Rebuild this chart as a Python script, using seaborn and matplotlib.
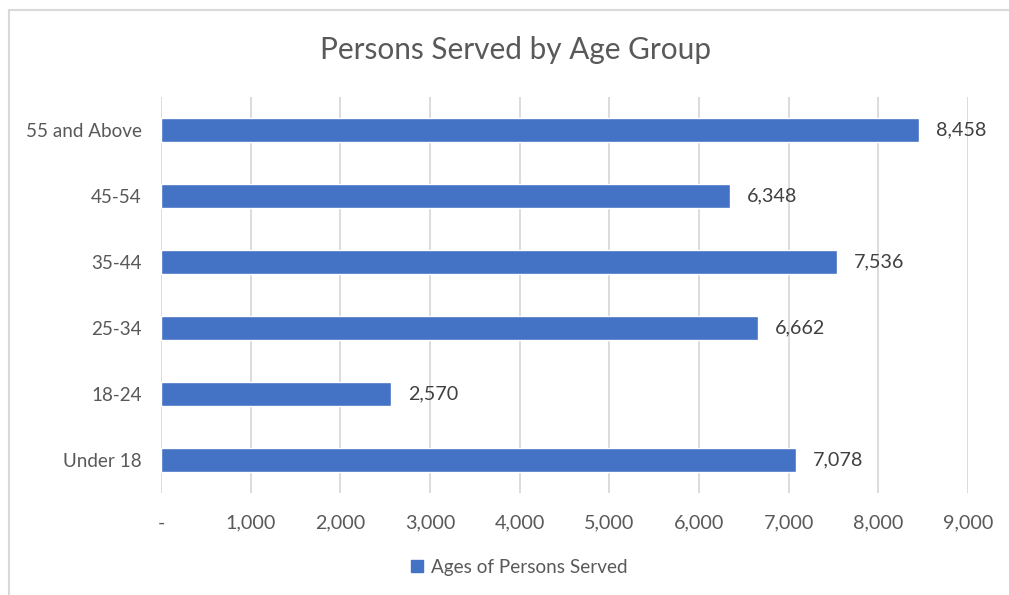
import matplotlib
matplotlib.use("Agg")
import matplotlib.pyplot as plt
import seaborn as sns
import pandas as pd
from matplotlib.lines import Line2D
from matplotlib.patches import Patch

categories = ["55 and Above", "45-54", "35-44", "25-34", "18-24", "Under 18"]
values = [8458, 6348, 7536, 6662, 2570, 7078]
xticks = [0, 1000, 2000, 3000, 4000, 5000, 6000, 7000, 8000, 9000]
xtick_labels = ["-", "1,000", "2,000", "3,000", "4,000", "5,000", "6,000", "7,000", "8,000", "9,000"]
title = "Persons Served by Age Group"
series_name = "Ages of Persons Served"

df = pd.DataFrame({"Age Group": categories, "Persons": values})

sns.set_theme(style="white")
plt.rcParams["font.family"] = ["Lato", "DejaVu Sans"]

TXT = "#595959"
BAR = "#4472C4"
GRID = "#d9d9d9"

fig = plt.figure(figsize=(10.09, 5.95), dpi=100)
ax = fig.add_axes([161 / 1009, 1 - 493 / 595, (968 - 161) / 1009, (493 - 97) / 595])

sns.barplot(data=df, x="Persons", y="Age Group", order=categories, orient="h",
            color=BAR, saturation=1, width=0.36, ax=ax)

ax.set_xlim(0, 9000)
ax.set_xticks(xticks)
ax.set_xticklabels(xtick_labels)
ax.xaxis.grid(True, color=GRID, linewidth=1.3)
ax.yaxis.grid(False)
ax.set_axisbelow(True)
for s in ax.spines.values():
    s.set_visible(False)
ax.tick_params(axis="x", length=0, pad=15.5, labelsize=14.2, labelcolor=TXT)
ax.tick_params(axis="y", length=0, pad=14, labelsize=13.6, labelcolor=TXT)
ax.set_xlabel("")
ax.set_ylabel("")

for i, v in enumerate(values):
    ax.annotate(f"{v:,}", xy=(v, i), xytext=(17, 0), textcoords="offset pixels",
                ha="left", va="center", fontsize=14.2, color="#404040")

fig.text(516 / 1009, 1 - 50 / 595, title, ha="center", va="center", fontsize=21.4, color=TXT)

handle = Patch(facecolor=BAR, edgecolor=BAR)
fig.legend([handle], [series_name], loc="center", bbox_to_anchor=(519 / 1009, 1 - 567 / 595),
           frameon=False, fontsize=13.6, labelcolor=TXT, handlelength=0.65, handleheight=0.65,
           handletextpad=0.4)

# chart frame (clipped at right and bottom in the reference)
fig.add_artist(Line2D([8.5 / 1009, 1], [1 - 10 / 595, 1 - 10 / 595], color="#d9d9d9", linewidth=1.5))
fig.add_artist(Line2D([8.5 / 1009, 8.5 / 1009], [0, 1 - 10 / 595], color="#d9d9d9", linewidth=1.5))

fig.savefig("out.png", dpi=100)
